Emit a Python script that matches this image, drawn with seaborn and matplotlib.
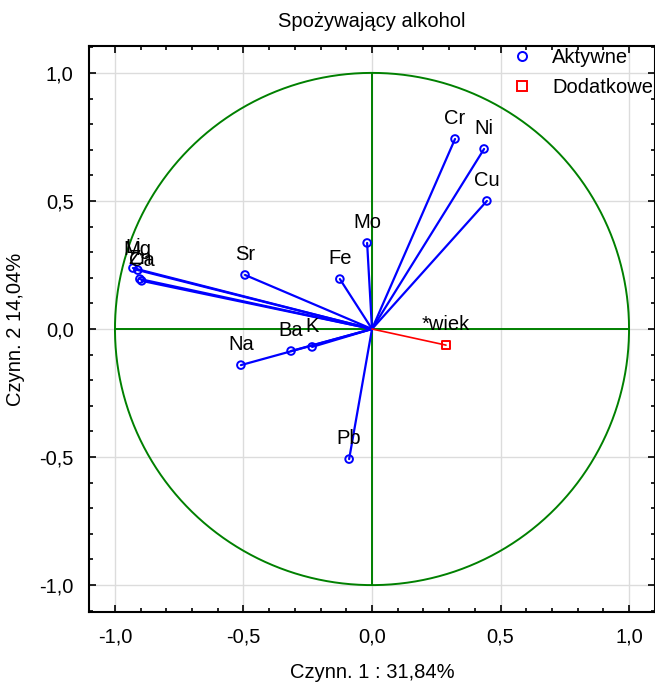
import numpy as np
import pandas as pd
import matplotlib
matplotlib.use("Agg")
import matplotlib.pyplot as plt
from matplotlib.lines import Line2D
from matplotlib.ticker import MultipleLocator, FuncFormatter
import seaborn as sns

# active variables (factor loadings)
active_names = ["Cr", "Ni", "Cu", "Mo", "Fe", "Sr", "Li", "Mg", "Zn", "Ca", "Na", "Ba", "K", "Pb"]
active_f1 = [0.323, 0.436, 0.447, -0.019, -0.125, -0.494, -0.930, -0.911, -0.903, -0.896,
             -0.510, -0.315, -0.233, -0.089]
active_f2 = [0.742, 0.703, 0.500, 0.336, 0.195, 0.211, 0.238, 0.230, 0.195, 0.188,
             -0.141, -0.086, -0.070, -0.508]

# supplementary variable
supp_names = ["*wiek"]
supp_f1 = [0.288]
supp_f2 = [-0.063]

title = "Spożywający alkohol"
xlabel = "Czynn. 1 : 31,84%"
ylabel = "Czynn. 2 14,04%"

sns.set_theme(style="white")
plt.rcParams["font.family"] = ["Liberation Sans", "DejaVu Sans"]
plt.rcParams["text.color"] = "black"
plt.rcParams["axes.labelcolor"] = "black"

FS = 14.5

active = pd.DataFrame({"name": active_names, "f1": active_f1, "f2": active_f2})
supp = pd.DataFrame({"name": supp_names, "f1": supp_f1, "f2": supp_f2})

fig = plt.figure(figsize=(6.55, 6.86), dpi=100)
ax = fig.add_axes([89 / 655, 74 / 686, 566 / 655, 566 / 686])

green = "#008000"
t = np.linspace(0, 2 * np.pi, 400)
ax.plot(np.cos(t), np.sin(t), color=green, lw=1.4, zorder=2)
ax.plot([-1, 1], [0, 0], color=green, lw=1.4, zorder=2)
ax.plot([0, 0], [-1, 1], color=green, lw=1.4, zorder=2)

for _, r in active.iterrows():
    ax.plot([0, r.f1], [0, r.f2], color="#0000ff", lw=1.6, zorder=3)
for _, r in supp.iterrows():
    ax.plot([0, r.f1], [0, r.f2], color="#ff0000", lw=1.2, zorder=3)

sns.scatterplot(data=active, x="f1", y="f2", ax=ax, marker="o", s=30,
                fc="none", ec="#0000ff", linewidth=1.4, zorder=4, legend=False)
sns.scatterplot(data=supp, x="f1", y="f2", ax=ax, marker="s", s=30,
                fc="none", ec="#ff0000", linewidth=1.4, zorder=4, legend=False)

for df in (active, supp):
    for _, r in df.iterrows():
        ax.annotate(r["name"], (r.f1, r.f2), xytext=(0, 14.5), textcoords="offset points",
                    ha="center", va="center", fontsize=FS, color="black", zorder=5)

ax.set_xlim(-1.101, 1.101)
ax.set_ylim(-1.105, 1.105)

fmt = FuncFormatter(lambda v, p: f"{v:.1f}".replace(".", ","))
for axis in (ax.xaxis, ax.yaxis):
    axis.set_major_locator(MultipleLocator(0.5))
    axis.set_minor_locator(MultipleLocator(0.1))
    axis.set_major_formatter(fmt)

ax.tick_params(which="both", direction="in", top=True, right=True, bottom=True, left=True,
               labelsize=FS, colors="black", width=1.2)
ax.tick_params(which="major", length=5, pad=11)
ax.tick_params(which="minor", length=3)
ax.grid(True, which="major", color="#dcdcdc", lw=1.0, zorder=0)
ax.set_axisbelow(True)
for s in ax.spines.values():
    s.set_color("black")
    s.set_linewidth(1.5)

ax.set_title(title, fontsize=FS, pad=14)
ax.set_xlabel(xlabel, fontsize=FS, labelpad=12)
ax.set_ylabel(ylabel, fontsize=FS, labelpad=10)

handles = [
    Line2D([], [], marker="o", ls="none", mfc="none", mec="#0000ff", mew=1.4, ms=6.5),
    Line2D([], [], marker="s", ls="none", mfc="none", mec="#ff0000", mew=1.4, ms=6.5),
]
ax.legend(handles, ["Aktywne", "Dodatkowe"], loc="upper left", bbox_to_anchor=(0.747, 0.996),
          frameon=False, fontsize=FS, handlelength=1.0, handletextpad=1.0,
          labelspacing=0.55, borderpad=0, borderaxespad=0)

fig.savefig("out.png", dpi=100)
